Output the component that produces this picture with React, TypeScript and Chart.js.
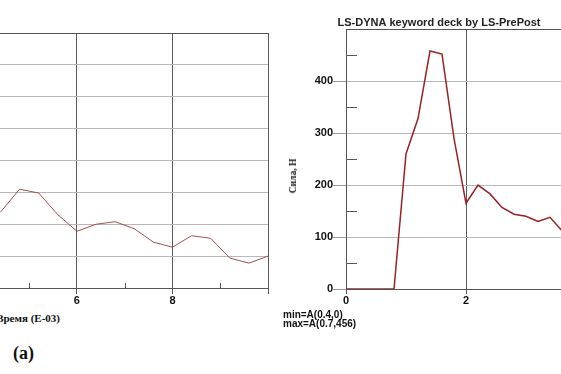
import React, { useEffect, useRef } from "react";
import { Chart, registerables } from "chart.js";

Chart.register(...registerables);

// ---- Left (partial) chart data ----
const leftTimes = [4.4, 4.8, 5.2, 5.6, 6.0, 6.4, 6.8, 7.2, 7.6, 8.0, 8.4, 8.8, 9.2, 9.6, 10.0];
const leftForce = [119, 155, 149, 115, 89, 100, 104, 93, 72, 64, 82, 78, 47, 39, 50];
const leftXTickLabels = [6, 8];
const leftMinorTicks = [5, 7, 9];

// ---- Right chart data ----
const rightTimes = [0, 0.2, 0.4, 0.6, 0.8, 1.0, 1.2, 1.4, 1.6, 1.8, 2.0, 2.2, 2.4, 2.6, 2.8, 3.0, 3.2, 3.4, 3.6];
const rightForce = [0, 0, 0, 0, 0, 260, 328, 458, 452, 290, 165, 200, 183, 157, 144, 140, 130, 138, 112];
const rightXTickLabels = [0, 2];
const rightYTickLabels = [0, 100, 200, 300, 400];
const rightMinorTicks = [50, 150, 250, 350, 450];

const rightTitle = "LS-DYNA keyword deck by LS-PrePost";
const yTitle = "Сила, Н";
const xTitle = "Время (E-03)";
const minText = "min=A(0.4,0)";
const maxText = "max=A(0.7,456)";
const panelLabel = "(a)";

const SANS = '"Liberation Sans", Arial, sans-serif';
const SERIF = '"Liberation Serif", "Times New Roman", serif';
const T = "rgba(0,0,0,0)";

function makeMinorPlugin(axis: "x" | "y", values: number[], length: number, color: string) {
  return {
    id: "minorTicks_" + axis,
    afterDatasetsDraw(chart: any) {
      const { ctx, chartArea } = chart;
      ctx.save();
      ctx.strokeStyle = color;
      ctx.lineWidth = 1;
      ctx.beginPath();
      for (const v of values) {
        if (axis === "x") {
          const x = Math.round(chart.scales.x.getPixelForValue(v)) + 0.5;
          ctx.moveTo(x, chartArea.bottom);
          ctx.lineTo(x, chartArea.bottom - length);
        } else {
          const y = Math.round(chart.scales.y.getPixelForValue(v)) + 0.5;
          ctx.moveTo(chartArea.left, y);
          ctx.lineTo(chartArea.left + length, y);
        }
      }
      ctx.stroke();
      ctx.restore();
    },
  };
}

export default function App() {
  const leftRef = useRef<HTMLCanvasElement>(null);
  const rightRef = useRef<HTMLCanvasElement>(null);

  useEffect(() => {
    document.body.style.margin = "0";
    const tickFont = { family: SANS, weight: "bold" as const, size: 11 };

    const left = new Chart(leftRef.current!, {
      type: "line",
      data: {
        datasets: [
          {
            data: leftTimes.map((t, i) => ({ x: t, y: leftForce[i] })),
            borderColor: "#a3504c",
            borderWidth: 1,
            pointRadius: 0,
            tension: 0,
          },
        ],
      },
      plugins: [makeMinorPlugin("x", leftMinorTicks, 5, "#555")],
      options: {
        responsive: false,
        animation: false,
        devicePixelRatio: 1,
        layout: { padding: { top: 33, right: 2, left: 0, bottom: 0 } },
        plugins: { legend: { display: false }, tooltip: { enabled: false } },
        scales: {
          x: {
            type: "linear",
            min: 4.39,
            max: 10,
            afterFit: (s: any) => {
              s.height = 22;
            },
            ticks: {
              stepSize: 1,
              includeBounds: false,
              autoSkip: false,
              maxRotation: 0,
              padding: 0,
              color: "#111",
              font: tickFont,
              callback: (v: any) => (leftXTickLabels.includes(Number(v)) ? String(v) : ""),
            },
            grid: {
              color: (c: any) => (c.tick && c.tick.value % 2 === 0 ? "#5a5a5a" : T),
              tickColor: (c: any) => (c.tick && c.tick.value % 2 === 0 ? "#5a5a5a" : T),
              tickLength: 6,
              lineWidth: 1,
            },
            border: { display: true, color: "#555" },
          },
          y: {
            type: "linear",
            min: 0,
            max: 400,
            afterFit: (s: any) => {
              s.width = 0;
            },
            ticks: { display: false, stepSize: 50 },
            grid: {
              drawTicks: false,
              color: (c: any) => {
                const v = c.tick ? c.tick.value : -1;
                if (v === 400) return "#555";
                if (v === 0) return T;
                return "#b8b8b8";
              },
            },
            border: { display: false },
          },
        },
      },
    });

    const right = new Chart(rightRef.current!, {
      type: "line",
      data: {
        datasets: [
          {
            data: rightTimes.map((t, i) => ({ x: t, y: rightForce[i] })),
            borderColor: "#9a2222",
            borderWidth: 1.5,
            pointRadius: 0,
            tension: 0,
          },
        ],
      },
      plugins: [makeMinorPlugin("y", rightMinorTicks, 11, "#555")],
      options: {
        responsive: false,
        animation: false,
        devicePixelRatio: 1,
        layout: { padding: 0 },
        plugins: {
          legend: { display: false },
          tooltip: { enabled: false },
          title: {
            display: true,
            text: rightTitle,
            color: "#222",
            font: { family: SANS, weight: "bold", size: 11 },
            padding: { top: 16, bottom: 0 },
          },
        },
        scales: {
          x: {
            type: "linear",
            min: 0,
            max: 4.2,
            afterFit: (s: any) => {
              s.height = 21;
            },
            ticks: {
              stepSize: 2,
              includeBounds: false,
              autoSkip: false,
              maxRotation: 0,
              padding: 0,
              color: "#111",
              font: tickFont,
              callback: (v: any) => (rightXTickLabels.includes(Number(v)) ? String(v) : ""),
            },
            grid: {
              color: (c: any) => (c.tick && c.tick.value !== 0 ? "#5a5a5a" : T),
              tickColor: "#5a5a5a",
              tickLength: 5,
            },
            border: { display: true, color: "#555" },
          },
          y: {
            type: "linear",
            min: 0,
            max: 500,
            afterFit: (s: any) => {
              s.width = 66;
            },
            ticks: {
              stepSize: 50,
              autoSkip: false,
              padding: 0,
              color: "#111",
              font: tickFont,
              callback: (v: any) => (rightYTickLabels.includes(Number(v)) ? String(v) : ""),
            },
            grid: {
              color: (c: any) => {
                const v = c.tick ? c.tick.value : -1;
                if (v === 500) return "#555";
                if (v > 0 && v % 100 === 0) return "#b8b8b8";
                return T;
              },
              tickColor: (c: any) => {
                const v = c.tick ? c.tick.value : -1;
                return rightYTickLabels.includes(v) ? "#9a9a9a" : T;
              },
              tickLength: 13,
            },
            border: { display: true, color: "#555" },
          },
        },
      },
    });

    return () => {
      left.destroy();
      right.destroy();
    };
  }, []);

  const textBase: React.CSSProperties = { position: "absolute", whiteSpace: "nowrap", color: "#111" };

  return (
    <div
      style={{
        position: "fixed",
        left: 0,
        top: 0,
        width: 561,
        height: 374,
        overflow: "hidden",
        background: "#fff",
      }}
    >
      <canvas ref={leftRef} width={270} height={310} style={{ position: "absolute", left: 0, top: 0 }} />
      <canvas ref={rightRef} width={318} height={310} style={{ position: "absolute", left: 280, top: 0 }} />
      <div
        style={{
          ...textBase,
          right: 501,
          top: 312,
          font: `bold 11px ${SERIF}`,
          lineHeight: "12px",
        }}
      >
        {xTitle}
      </div>
      <div
        style={{
          ...textBase,
          left: 293,
          top: 176,
          font: `bold 9.5px ${SERIF}`,
          lineHeight: "10px",
          transform: "translate(-50%, -50%) rotate(-90deg)",
        }}
      >
        {yTitle}
      </div>
      <div
        style={{
          ...textBase,
          left: 283,
          top: 310,
          font: `bold 10px ${SANS}`,
          lineHeight: "9px",
        }}
      >
        <div>{minText}</div>
        <div>{maxText}</div>
      </div>
      <div
        style={{
          ...textBase,
          left: 13,
          top: 343,
          font: `bold 18px ${SERIF}`,
          lineHeight: "20px",
        }}
      >
        {panelLabel}
      </div>
    </div>
  );
}
